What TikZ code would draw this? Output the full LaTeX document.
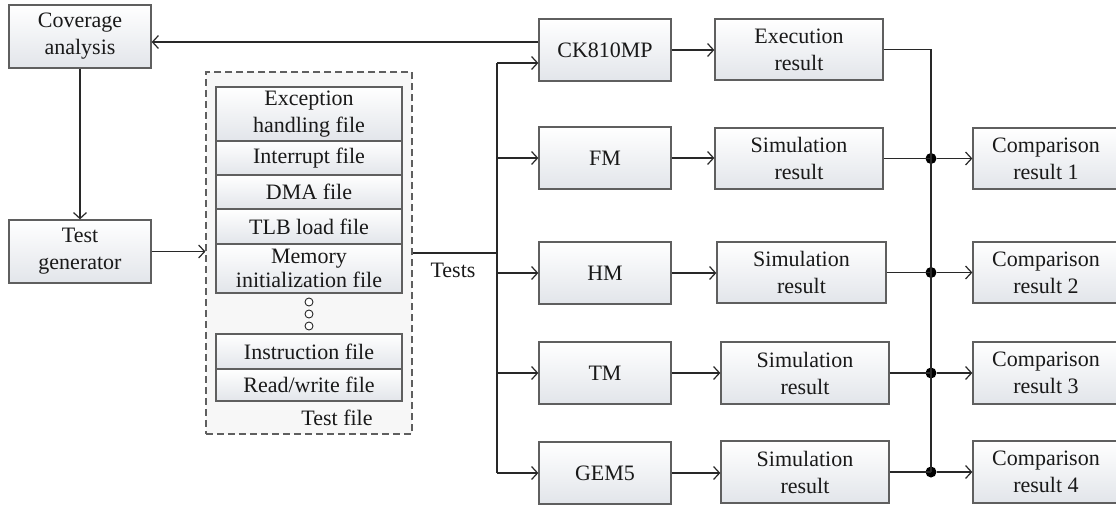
\documentclass[tikz,border=0pt]{standalone}
\usepackage{fontspec}
\setmainfont{Liberation Serif}
\usetikzlibrary{arrows.meta,calc}
\definecolor{boxbot}{RGB}{226,229,234}
\definecolor{boxline}{RGB}{95,95,95}
\definecolor{wire}{RGB}{40,40,40}
\definecolor{txt}{RGB}{25,25,25}
\tikzset{
  blk/.style={draw=boxline, line width=1.3pt, top color=white, bottom color=boxbot,
    inner sep=0pt, align=center, text=txt, font=\fontsize{22}{27}\selectfont},
  filebox/.style={blk, minimum width=186pt},
  wirearr/.style={draw=wire, line width=1.3pt, -{Straight Barb[length=6pt,width=13pt,line width=1.2pt]}},
  wireln/.style={draw=wire, line width=1.3pt},
  junc/.style={circle, fill=black, inner sep=0pt, minimum size=11pt},
  ring/.style={circle, draw=wire, line width=0.9pt, fill=white, inner sep=0pt, minimum size=8pt},
  lbl/.style={text=txt, inner sep=0pt, font=\fontsize{22}{27}\selectfont}
}
\begin{document}
\begin{tikzpicture}[x=1pt, y=-1pt]
\useasboundingbox (0,0) rectangle (1116,504);
\clip (0,0) rectangle (1116,504);

% left column
\node[blk, minimum width=142pt, minimum height=63pt] (cov) at (80,36.5) {Coverage\\analysis};
\node[blk, minimum width=142pt, minimum height=63pt] (gen) at (80,251.5) {Test\\generator};

% test file container
\node[draw=boxline, dashed, dash pattern=on 7pt off 4pt, line width=1.1pt, fill=black!3,
      minimum width=206pt, minimum height=362pt, inner sep=0pt] (tf) at (309,253) {};
\node[filebox, minimum height=54pt] (exc) at (309,114) {Exception\\handling file};
\node[filebox, minimum height=34pt] (intr) at (309,158) {Interrupt file};
\node[filebox, minimum height=34pt] (dma) at (309,192) {DMA file};
\node[filebox, minimum height=35pt] (tlb) at (309,226.5) {TLB load file};
\node[filebox, minimum height=49pt, font=\fontsize{22}{24.5}\selectfont] (mem) at (309,268.5) {Memory\\initialization file};
\node[ring] (d1) at (309,302) {};
\node[ring] (d2) at (309,314) {};
\node[ring] (d3) at (309,326) {};
\node[filebox, minimum height=35pt] (ins) at (309,351.5) {Instruction file};
\node[filebox, minimum height=32pt] (rw) at (309,385) {Read/write file};
\node[lbl] (tfl) at (337,418) {Test file};

\node[lbl] (tests) at (453,270) {Tests};

% models under test
\node[blk, minimum width=132pt, minimum height=62pt] (ck) at (605,50) {CK810MP};
\node[blk, minimum width=132pt, minimum height=62pt] (fm) at (605,158) {FM};
\node[blk, minimum width=132pt, minimum height=62pt] (hm) at (605,273) {HM};
\node[blk, minimum width=132pt, minimum height=62pt] (tm) at (605,373) {TM};
\node[blk, minimum width=132pt, minimum height=62pt] (gem) at (605,473) {GEM5};

% results
\node[blk, minimum width=168pt, minimum height=61pt] (ex) at (799,49.5) {Execution\\result};
\node[blk, minimum width=168pt, minimum height=61pt] (s1) at (799,158.5) {Simulation\\result};
\node[blk, minimum width=169pt, minimum height=61pt] (s2) at (801.5,272.5) {Simulation\\result};
\node[blk, minimum width=168pt, minimum height=62pt] (s3) at (805,373) {Simulation\\result};
\node[blk, minimum width=168pt, minimum height=62pt] (s4) at (805,472) {Simulation\\result};

% comparisons
\node[blk, minimum width=146pt, minimum height=61pt] (c1) at (1046,158.5) {Comparison\\result 1};
\node[blk, minimum width=146pt, minimum height=61pt] (c2) at (1046,272.5) {Comparison\\result 2};
\node[blk, minimum width=146pt, minimum height=62pt] (c3) at (1046,373) {Comparison\\result 3};
\node[blk, minimum width=146pt, minimum height=62pt] (c4) at (1046,472) {Comparison\\result 4};

% bus and merge points
\coordinate (bt) at (497,63);
\coordinate (bm) at (497,253);
\coordinate (bb) at (497,473);
\coordinate (mt) at (931,49.5);
\node[junc] (j1) at (931,158.5) {};
\node[junc] (j2) at (931,272.5) {};
\node[junc] (j3) at (931,373) {};
\node[junc] (j4) at (931,472) {};

% connectors
\draw[wirearr] ([yshift=8pt]ck.west) -- ([yshift=8pt]ck.west -| cov.east);
\draw[wirearr] (cov.south) -- (gen.north);
\draw[wirearr] (gen.east) -- (gen.east -| tf.west);
\draw[wireln] (tf.east) -- (bm);
\draw[wireln] (bt) -- (bb);
\draw[wirearr] (bt) -- (bt -| ck.west);
\draw[wirearr] (bt |- fm.west) -- (fm.west);
\draw[wirearr] (bt |- hm.west) -- (hm.west);
\draw[wirearr] (bt |- tm.west) -- (tm.west);
\draw[wirearr] (bt |- gem.west) -- (gem.west);

\draw[wirearr] (ck.east) -- (ck.east -| ex.west);
\draw[wirearr] (fm.east) -- (fm.east -| s1.west);
\draw[wirearr] (hm.east) -- (hm.east -| s2.west);
\draw[wirearr] (tm.east) -- (tm.east -| s3.west);
\draw[wirearr] (gem.east) -- (gem.east -| s4.west);

\draw[wireln] (ex.east) -- (mt) -- (j4.center);
\draw[wireln] (s1.east) -- (j1.center);
\draw[wireln] (s2.east) -- (j2.center);
\draw[wireln] (s3.east) -- (j3.center);
\draw[wireln] (s4.east) -- (j4.center);
\draw[wirearr] (j1) -- (c1.west);
\draw[wirearr] (j2) -- (c2.west);
\draw[wirearr] (j3) -- (c3.west);
\draw[wirearr] (j4) -- (c4.west);
\end{tikzpicture}
\end{document}
